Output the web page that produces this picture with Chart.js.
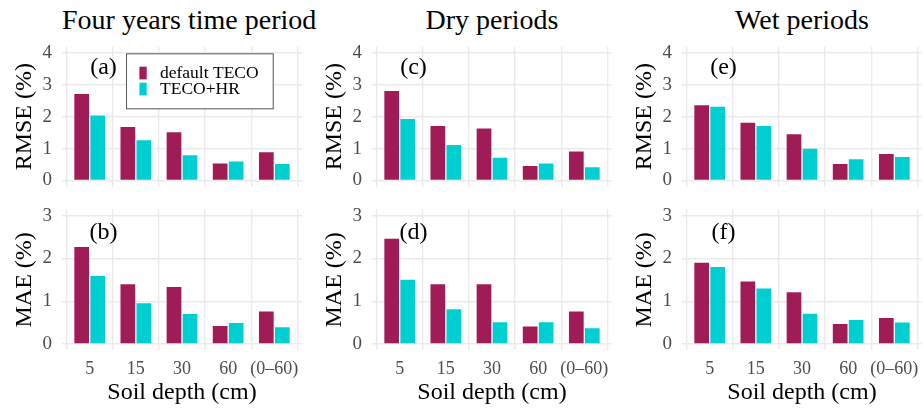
<!DOCTYPE html>
<html>
<head>
<meta charset="utf-8">
<script src="https://cdn.jsdelivr.net/npm/chart.js@4.4.1/dist/chart.umd.min.js"></script>
<style>
html, body { margin: 0; padding: 0; background: #fff; }
#wrap { position: relative; width: 923px; height: 409px; overflow: hidden; font-family: 'Liberation Serif', 'Times New Roman', serif; }
.col-title { position: absolute; top: 6px; width: 240px; text-align: center; font-size: 28px; line-height: 28px; color: #000; white-space: nowrap; }
canvas { position: absolute; }
</style>
</head>
<body>
<div id="wrap">
  <div class="col-title" id="t0" style="left:62px"></div>
  <div class="col-title" id="t1" style="left:372px"></div>
  <div class="col-title" id="t2" style="left:682px"></div>
  <canvas id="pa" width="303" height="150" style="left:0px;top:40px"></canvas>
  <canvas id="pc" width="303" height="150" style="left:310px;top:40px"></canvas>
  <canvas id="pe" width="303" height="150" style="left:620px;top:40px"></canvas>
  <canvas id="pb" width="303" height="209" style="left:0px;top:200px"></canvas>
  <canvas id="pd" width="303" height="209" style="left:310px;top:200px"></canvas>
  <canvas id="pf" width="303" height="209" style="left:620px;top:200px"></canvas>
</div>
<script>
'use strict'

// data
var depths = ['5', '15', '30', '60', '(0\u201360)'];
var seriesNames = ['default TECO', 'TECO+HR'];
var seriesColors = ['#a01c56', '#00cfd1'];
var periodTitles = ['Four years time period', 'Dry periods', 'Wet periods'];

var rmseAllDefault = [2.71, 1.68, 1.51, 0.53, 0.88];
var rmseAllHR      = [2.04, 1.26, 0.79, 0.59, 0.51];
var maeAllDefault  = [2.27, 1.40, 1.33, 0.42, 0.76];
var maeAllHR       = [1.59, 0.95, 0.70, 0.49, 0.39];

var rmseDryDefault = [2.81, 1.71, 1.63, 0.45, 0.91];
var rmseDryHR      = [1.93, 1.11, 0.71, 0.53, 0.41];
var maeDryDefault  = [2.46, 1.40, 1.40, 0.41, 0.76];
var maeDryHR       = [1.50, 0.81, 0.51, 0.51, 0.37];

var rmseWetDefault = [2.36, 1.81, 1.45, 0.51, 0.83];
var rmseWetHR      = [2.31, 1.71, 0.99, 0.66, 0.73];
var maeWetDefault  = [1.90, 1.46, 1.21, 0.47, 0.61];
var maeWetHR       = [1.80, 1.30, 0.71, 0.56, 0.50];

var rmseTicks = [0, 1, 2, 3, 4];
var maeTicks = [0, 1, 2, 3];

var FONT = "'Liberation Serif', 'Times New Roman', serif";

for (var t = 0; t < periodTitles.length; t++) {
    document.getElementById('t' + t).textContent = periodTitles[t];
}

// panel tag like (a) placed in data coordinates
var panelTag = {
    id: 'panelTag',
    afterDatasetsDraw: function(chart, args, opts) {
        var c = chart.ctx;
        c.save();
        c.font = '24px ' + FONT;
        c.fillStyle = '#000';
        c.textAlign = 'center';
        c.textBaseline = 'middle';
        c.fillText(opts.text, chart.scales.x.getPixelForValue(opts.x), chart.scales.y.getPixelForValue(opts.y));
        c.restore();
    }
};

// boxed legend inside panel (a)
var boxLegend = {
    id: 'boxLegend',
    afterDraw: function(chart, args, opts) {
        if (!opts.show) return;
        var c = chart.ctx;
        var a = chart.chartArea;
        var bx = a.left + 64, by = a.top + 6.6;
        c.save();
        c.fillStyle = '#fff';
        c.fillRect(bx, by, 146.7, 55);
        c.strokeStyle = '#555';
        c.lineWidth = 1;
        c.strokeRect(bx + 0.5, by + 0.5, 146.7, 55);
        c.font = '17.5px ' + FONT;
        c.textBaseline = 'middle';
        c.textAlign = 'left';
        var ds = chart.data.datasets;
        for (var i = 0; i < ds.length; i++) {
            c.fillStyle = ds[i].backgroundColor;
            c.fillRect(bx + 13.4, by + 13.4 + i * 16, 7.3, 12.7);
            c.fillStyle = '#000';
            c.fillText(ds[i].label, bx + 34, by + 20 + i * 16);
        }
        c.restore();
    }
};

function toPoints(values) {
    var out = [];
    for (var i = 0; i < values.length; i++) out.push({x: i, y: values[i]});
    return out;
}

function panelChart(id, tag, tagY, yTitle, yTicks, def, hr, bottomRow, showLegend) {
    var yMax = yTicks[yTicks.length - 1];
    var pad = yMax * 0.05;
    var datasets = [def, hr].map(function(vals, k) {
        return {
            label: seriesNames[k],
            data: toPoints(vals),
            backgroundColor: seriesColors[k],
            borderWidth: 0,
            categoryPercentage: 0.693,
            barPercentage: 0.92
        };
    });
    new Chart(document.getElementById(id), {
        type: 'bar',
        data: { datasets: datasets },
        plugins: [panelTag, boxLegend],
        options: {
            responsive: false,
            animation: false,
            events: [],
            layout: { padding: bottomRow ? {top: 9.3, bottom: 0, left: 0, right: 1} : {top: 6.7, bottom: 3.3, left: 0, right: 1} },
            plugins: {
                legend: { display: false },
                tooltip: { enabled: false },
                panelTag: { text: tag, x: 0.3, y: tagY },
                boxLegend: { show: showLegend }
            },
            scales: {
                x: {
                    type: 'linear',
                    min: -0.6,
                    max: depths.length - 0.4,
                    offset: false,
                    afterBuildTicks: function(s) { s.ticks = depths.map(function(d, i) { return {value: i}; }); },
                    afterFit: function(s) {
                        s.height = bottomRow ? 58.6 : 0;
                        s.paddingLeft = 0;
                        s.paddingRight = 0;
                    },
                    ticks: {
                        display: bottomRow,
                        callback: function(v) { return depths[v]; },
                        color: '#4d4d4d',
                        font: { family: FONT, size: 18 },
                        padding: 8,
                        maxRotation: 0,
                        autoSkip: false
                    },
                    grid: { color: '#ebebeb', lineWidth: 1.4, drawTicks: false },
                    border: { display: false },
                    title: {
                        display: bottomRow,
                        text: 'Soil depth (cm)',
                        color: '#000',
                        font: { family: FONT, size: 24 },
                        padding: { top: 0, bottom: 2 }
                    }
                },
                y: {
                    min: -pad,
                    max: yMax + pad,
                    afterBuildTicks: function(s) { s.ticks = yTicks.map(function(v) { return {value: v}; }); },
                    afterFit: function(s) {
                        s.width = 62;
                        s.paddingTop = 0;
                        s.paddingBottom = 0;
                    },
                    ticks: {
                        color: '#4d4d4d',
                        font: { family: FONT, size: 19 },
                        padding: 10
                    },
                    grid: { color: '#ebebeb', lineWidth: 1.4, drawTicks: false },
                    border: { display: false },
                    title: {
                        display: true,
                        text: yTitle,
                        color: '#000',
                        font: { family: FONT, size: 24 },
                        padding: { top: 10, bottom: 0 }
                    }
                }
            }
        }
    });
}

panelChart('pa', '(a)', 3.54, 'RMSE (%)', rmseTicks, rmseAllDefault, rmseAllHR, false, true);
panelChart('pb', '(b)', 2.61, 'MAE (%)', maeTicks, maeAllDefault, maeAllHR, true, false);
panelChart('pc', '(c)', 3.54, 'RMSE (%)', rmseTicks, rmseDryDefault, rmseDryHR, false, false);
panelChart('pd', '(d)', 2.61, 'MAE (%)', maeTicks, maeDryDefault, maeDryHR, true, false);
panelChart('pe', '(e)', 3.54, 'RMSE (%)', rmseTicks, rmseWetDefault, rmseWetHR, false, false);
panelChart('pf', '(f)', 2.61, 'MAE (%)', maeTicks, maeWetDefault, maeWetHR, true, false);
</script>
</body>
</html>
